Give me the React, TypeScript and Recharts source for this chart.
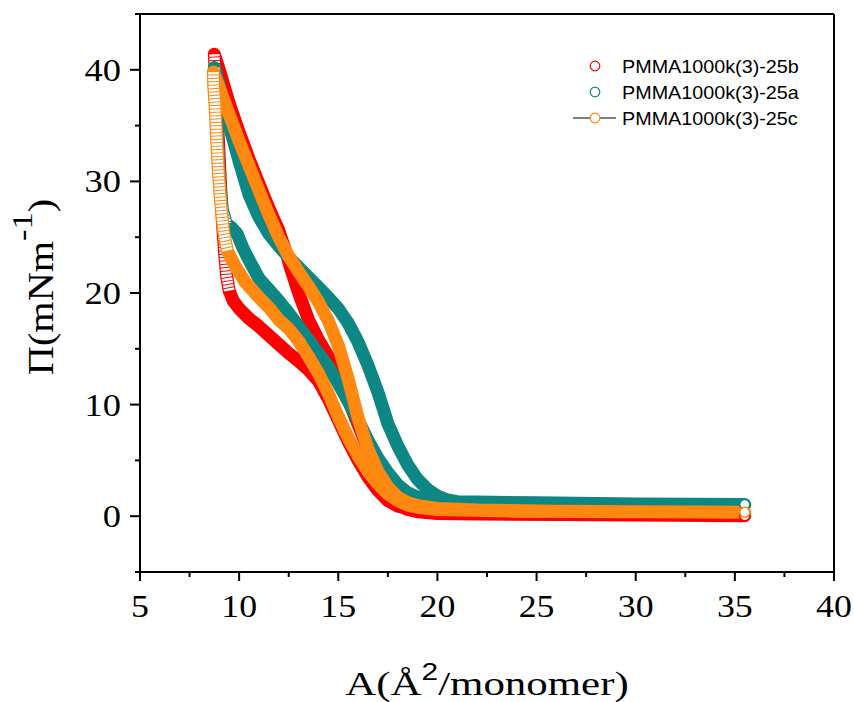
import React from 'react';
import { ComposedChart, Line, XAxis, YAxis, ReferenceLine, Legend, Label } from 'recharts';

// ---------- ticks ----------
const xTicks = [5, 7.5, 10, 12.5, 15, 17.5, 20, 22.5, 25, 27.5, 30, 32.5, 35, 37.5, 40];
const yTicks = [-5, 0, 5, 10, 15, 20, 25, 30, 35, 40, 45];

// ---------- legend ----------
const seriesNames = ['PMMA1000k(3)-25b', 'PMMA1000k(3)-25a', 'PMMA1000k(3)-25c'];
const seriesColors = ['#ff0000', '#0c8783', '#ff8811'];

// ---------- PMMA1000k(3)-25b (red) ----------
const redCompA = [35.5, 30, 26, 22, 20, 19, 18.5, 18, 17.5, 17, 16.5, 16, 15.5, 15, 14.5, 14, 13.5, 13, 12.6, 12.3, 12, 11.5, 11, 10.5, 10, 9.5, 9.0, 8.75];
const redCompP = [0.05, 0.1, 0.15, 0.2, 0.25, 0.4, 0.6, 1.0, 2.2, 3.9, 6.0, 8.2, 10.4, 12.6, 14.3, 15.8, 17.6, 20.0, 22.2, 24.0, 25.6, 27.6, 29.8, 32.0, 34.4, 37.0, 40.0, 41.4];
const redColA = [8.8, 8.86, 8.92, 9.0, 9.08, 9.17, 9.27, 9.37, 9.5];
const redColP = [39.5, 37.5, 35.0, 32.0, 29.0, 26.0, 23.5, 21.5, 20.2];
const redExpA = [9.7, 10, 10.5, 11, 11.5, 12, 12.5, 13, 13.5, 14, 14.5, 15, 15.5, 16, 16.5, 17, 17.5, 18, 19, 20, 24, 30, 35.5];
const redExpP = [19.3, 18.6, 17.7, 17.0, 16.2, 15.4, 14.6, 13.9, 13.1, 12.1, 10.5, 8.6, 6.7, 5.0, 3.5, 2.3, 1.4, 0.9, 0.5, 0.3, 0.2, 0.1, 0.05];

// ---------- PMMA1000k(3)-25a (teal) ----------
const tealCompA = [35.5, 30, 25, 22, 21, 20.5, 20, 19.5, 19, 18.5, 18, 17.5, 17, 16.5, 16, 15.5, 15, 14.5, 14, 13.5, 13, 12.5, 12, 11.5, 11, 10.5, 10, 9.5, 9.0, 8.75];
const tealCompP = [1.0, 1.1, 1.15, 1.25, 1.3, 1.45, 1.8, 2.4, 3.3, 4.6, 6.3, 8.3, 11.1, 13.5, 15.6, 17.3, 18.6, 19.6, 20.5, 21.4, 22.3, 23.2, 24.2, 25.3, 26.8, 28.8, 31.8, 35.0, 38.6, 40.2];
const tealColA = [8.78, 8.84, 8.92, 9.02, 9.15, 9.35];
const tealColP = [38.5, 36.0, 33.0, 30.0, 27.5, 26.2];
const tealExpA = [9.65, 9.9, 10.2, 10.6, 11, 11.5, 12, 12.5, 13, 13.5, 14, 14.5, 15, 15.5, 16, 16.5, 17, 17.5, 18, 18.5, 19, 19.5, 20, 21, 25, 30, 35.5];
const tealExpP = [25.8, 25.3, 24.0, 22.6, 21.3, 20.3, 19.3, 18.2, 17.0, 15.8, 14.6, 13.4, 11.9, 10.3, 8.6, 6.8, 5.2, 3.9, 2.8, 2.1, 1.7, 1.5, 1.4, 1.3, 1.2, 1.1, 1.05];

// ---------- PMMA1000k(3)-25c (orange) ----------
const orangeCompA = [35.5, 30, 26, 22, 20, 19, 18.5, 18, 17.5, 17, 16.5, 16, 15.5, 15, 14.5, 14, 13.5, 13, 12.5, 12, 11.5, 11, 10.5, 10, 9.5, 9.0, 8.7];
const orangeCompP = [0.35, 0.4, 0.45, 0.55, 0.7, 0.95, 1.2, 1.7, 2.6, 4.0, 6.0, 8.8, 12.3, 15.3, 17.5, 19.2, 20.6, 21.9, 23.3, 25.0, 27.0, 29.2, 31.4, 33.6, 36.0, 38.4, 39.8];
const orangeColA = [8.72, 8.78, 8.86, 8.95, 9.07, 9.22, 9.4];
const orangeColP = [38.5, 37.0, 34.0, 31.0, 28.0, 25.5, 23.8];
const orangeExpA = [9.8, 10.3, 11, 11.5, 12, 12.5, 13, 13.5, 14, 14.5, 15, 15.5, 16, 16.5, 17, 17.5, 18, 18.5, 19, 20, 24, 30, 35.5];
const orangeExpP = [22.4, 21.0, 19.6, 18.7, 17.6, 16.8, 15.7, 14.3, 12.8, 11.0, 8.9, 7.0, 5.4, 4.0, 2.9, 2.0, 1.4, 1.0, 0.8, 0.6, 0.45, 0.4, 0.35];

type Pt = { a: number; p: number };
const pts = (a: number[], p: number[]): Pt[] => a.map((v, i) => ({ a: v, p: p[i] }));

function buildSeries(cA: number[], cP: number[], kA: number[], kP: number[], eA: number[], eP: number[]) {
  const comp = pts(cA, cP);
  const col = pts(kA, kP);
  const exp = pts(eA, eP);
  return { loop: [...comp, ...col, ...exp], column: [comp[comp.length - 1], ...col] };
}

const red = buildSeries(redCompA, redCompP, redColA, redColP, redExpA, redExpP);
const teal = buildSeries(tealCompA, tealCompP, tealColA, tealColP, tealExpA, tealExpP);
const orange = buildSeries(orangeCompA, orangeCompP, orangeColA, orangeColP, orangeExpA, orangeExpP);
const allSeries = [red, teal, orange];

const SERIF = "'Liberation Serif', 'Times New Roman', Times, serif";
const SANS = "'Liberation Sans', Arial, Helvetica, sans-serif";

const XTick = (props: any) => {
  const { x, y, payload } = props;
  const v = payload.value as number;
  const major = v % 5 === 0;
  return (
    <g>
      <line x1={x} x2={x} y1={y} y2={y + (major ? 9 : 5)} stroke="#000" strokeWidth={2} />
      {major && (
        <text transform={`translate(${x} ${y + 45}) scale(1.12 1)`} textAnchor="middle" fontFamily={SERIF} fontSize={32} fill="#000">
          {v}
        </text>
      )}
    </g>
  );
};

const YTick = (props: any) => {
  const { x, y, payload } = props;
  const v = payload.value as number;
  const major = v % 10 === 0;
  return (
    <g>
      <line x1={x - (major ? 10 : 5)} x2={x} y1={y} y2={y} stroke="#000" strokeWidth={2} />
      {major && (
        <text transform={`translate(${x - 19} ${y + 11}) scale(1.14 1)`} textAnchor="end" fontFamily={SERIF} fontSize={32} fill="#000">
          {v}
        </text>
      )}
    </g>
  );
};

const XLabel = (props: any) => {
  const vb = props.viewBox;
  const cx = vb.x + vb.width / 2;
  const by = vb.y + 123;
  return (
    <text transform={`translate(${cx} ${by}) scale(1.3 1)`} textAnchor="middle" fontFamily={SERIF} fontSize={33} fill="#000">
      A(Å
      <tspan fontFamily={SANS} fontSize={23} dy={-15}>2</tspan>
      <tspan dy={15}>/monomer)</tspan>
    </text>
  );
};

const YLabel = (props: any) => {
  const vb = props.viewBox;
  const cy = vb.y + vb.height / 2 - 6;
  return (
    <text transform={`translate(53 ${cy}) rotate(-90) scale(1.15 1)`} textAnchor="middle" fontFamily={SERIF} fontSize={35} fill="#000">
      Π(mNm
      <tspan fontSize={30} dy={-21}>-1</tspan>
      <tspan dy={21}>)</tspan>
    </text>
  );
};

const renderLegend = () => (
  <svg width={854} height={140} style={{ display: 'block' }}>
    {seriesNames.map((name, i) => {
      const cy = 66 + i * 26;
      return (
        <g key={name}>
          {i === 2 && <line x1={573} x2={616} y1={cy} y2={cy} stroke="#555" strokeWidth={1.5} />}
          <circle cx={595} cy={cy} r={4.8} fill="#fff" stroke={seriesColors[i]} strokeWidth={1.2} />
          <text transform={`translate(622 ${cy + 6.8}) scale(1.04 1)`} fontFamily={SANS} fontSize={19} fill="#000">
            {name}
          </text>
        </g>
      );
    })}
  </svg>
);

const makeEndDot = (len: number, color: string) => (p: any) => {
  if (p.index === len - 1) {
    return <circle key={`end-${p.index}`} cx={p.cx} cy={p.cy} r={5} fill="#fff" stroke={color} strokeWidth={1.5} />;
  }
  return <g key={`d-${p.index}`} />;
};

export default function App() {
  return (
    <div style={{ position: 'absolute', left: 0, top: 0, width: 854, height: 702, background: '#fff' }}>
      <ComposedChart width={854} height={702} margin={{ top: 14, right: 20, bottom: 0, left: 0 }}>
        <XAxis
          type="number"
          dataKey="a"
          domain={[5, 40]}
          ticks={xTicks}
          interval={0}
          tickSize={0}
          tickMargin={0}
          tickLine={false}
          height={130}
          allowDataOverflow
          axisLine={{ stroke: '#000', strokeWidth: 2 }}
          tick={XTick}
        >
          <Label content={XLabel} />
        </XAxis>
        <YAxis
          type="number"
          dataKey="p"
          domain={[-5, 45]}
          ticks={yTicks}
          interval={0}
          tickSize={0}
          tickMargin={0}
          tickLine={false}
          width={140}
          allowDataOverflow
          axisLine={{ stroke: '#000', strokeWidth: 2 }}
          tick={YTick}
        >
          <Label content={YLabel} />
        </YAxis>
        <ReferenceLine y={45} stroke="#000" strokeWidth={2} />
        <ReferenceLine x={40} stroke="#000" strokeWidth={2} />
        {allSeries.map((s, i) => [
          <Line
            key={`band-${i}`}
            data={s.loop}
            dataKey="p"
            name={seriesNames[i]}
            type="linear"
            stroke={seriesColors[i]}
            strokeWidth={13}
            strokeLinecap="round"
            strokeLinejoin="round"
            dot={makeEndDot(s.loop.length, seriesColors[i])}
            activeDot={false}
            isAnimationActive={false}
          />,
          <Line
            key={`col-${i}`}
            data={s.column}
            dataKey="p"
            name={`${seriesNames[i]} col`}
            type="linear"
            stroke="#ffffff"
            strokeWidth={10.5}
            strokeDasharray="2.4 1"
            strokeLinecap="butt"
            strokeLinejoin="round"
            dot={false}
            activeDot={false}
            legendType="none"
            isAnimationActive={false}
          />,
        ])}
        <Legend
          content={renderLegend}
          layout="horizontal"
          verticalAlign="middle"
          align="center"
          wrapperStyle={{ position: 'absolute', left: 0, top: 0, width: 854, height: 140, pointerEvents: 'none' }}
        />
      </ComposedChart>
    </div>
  );
}
